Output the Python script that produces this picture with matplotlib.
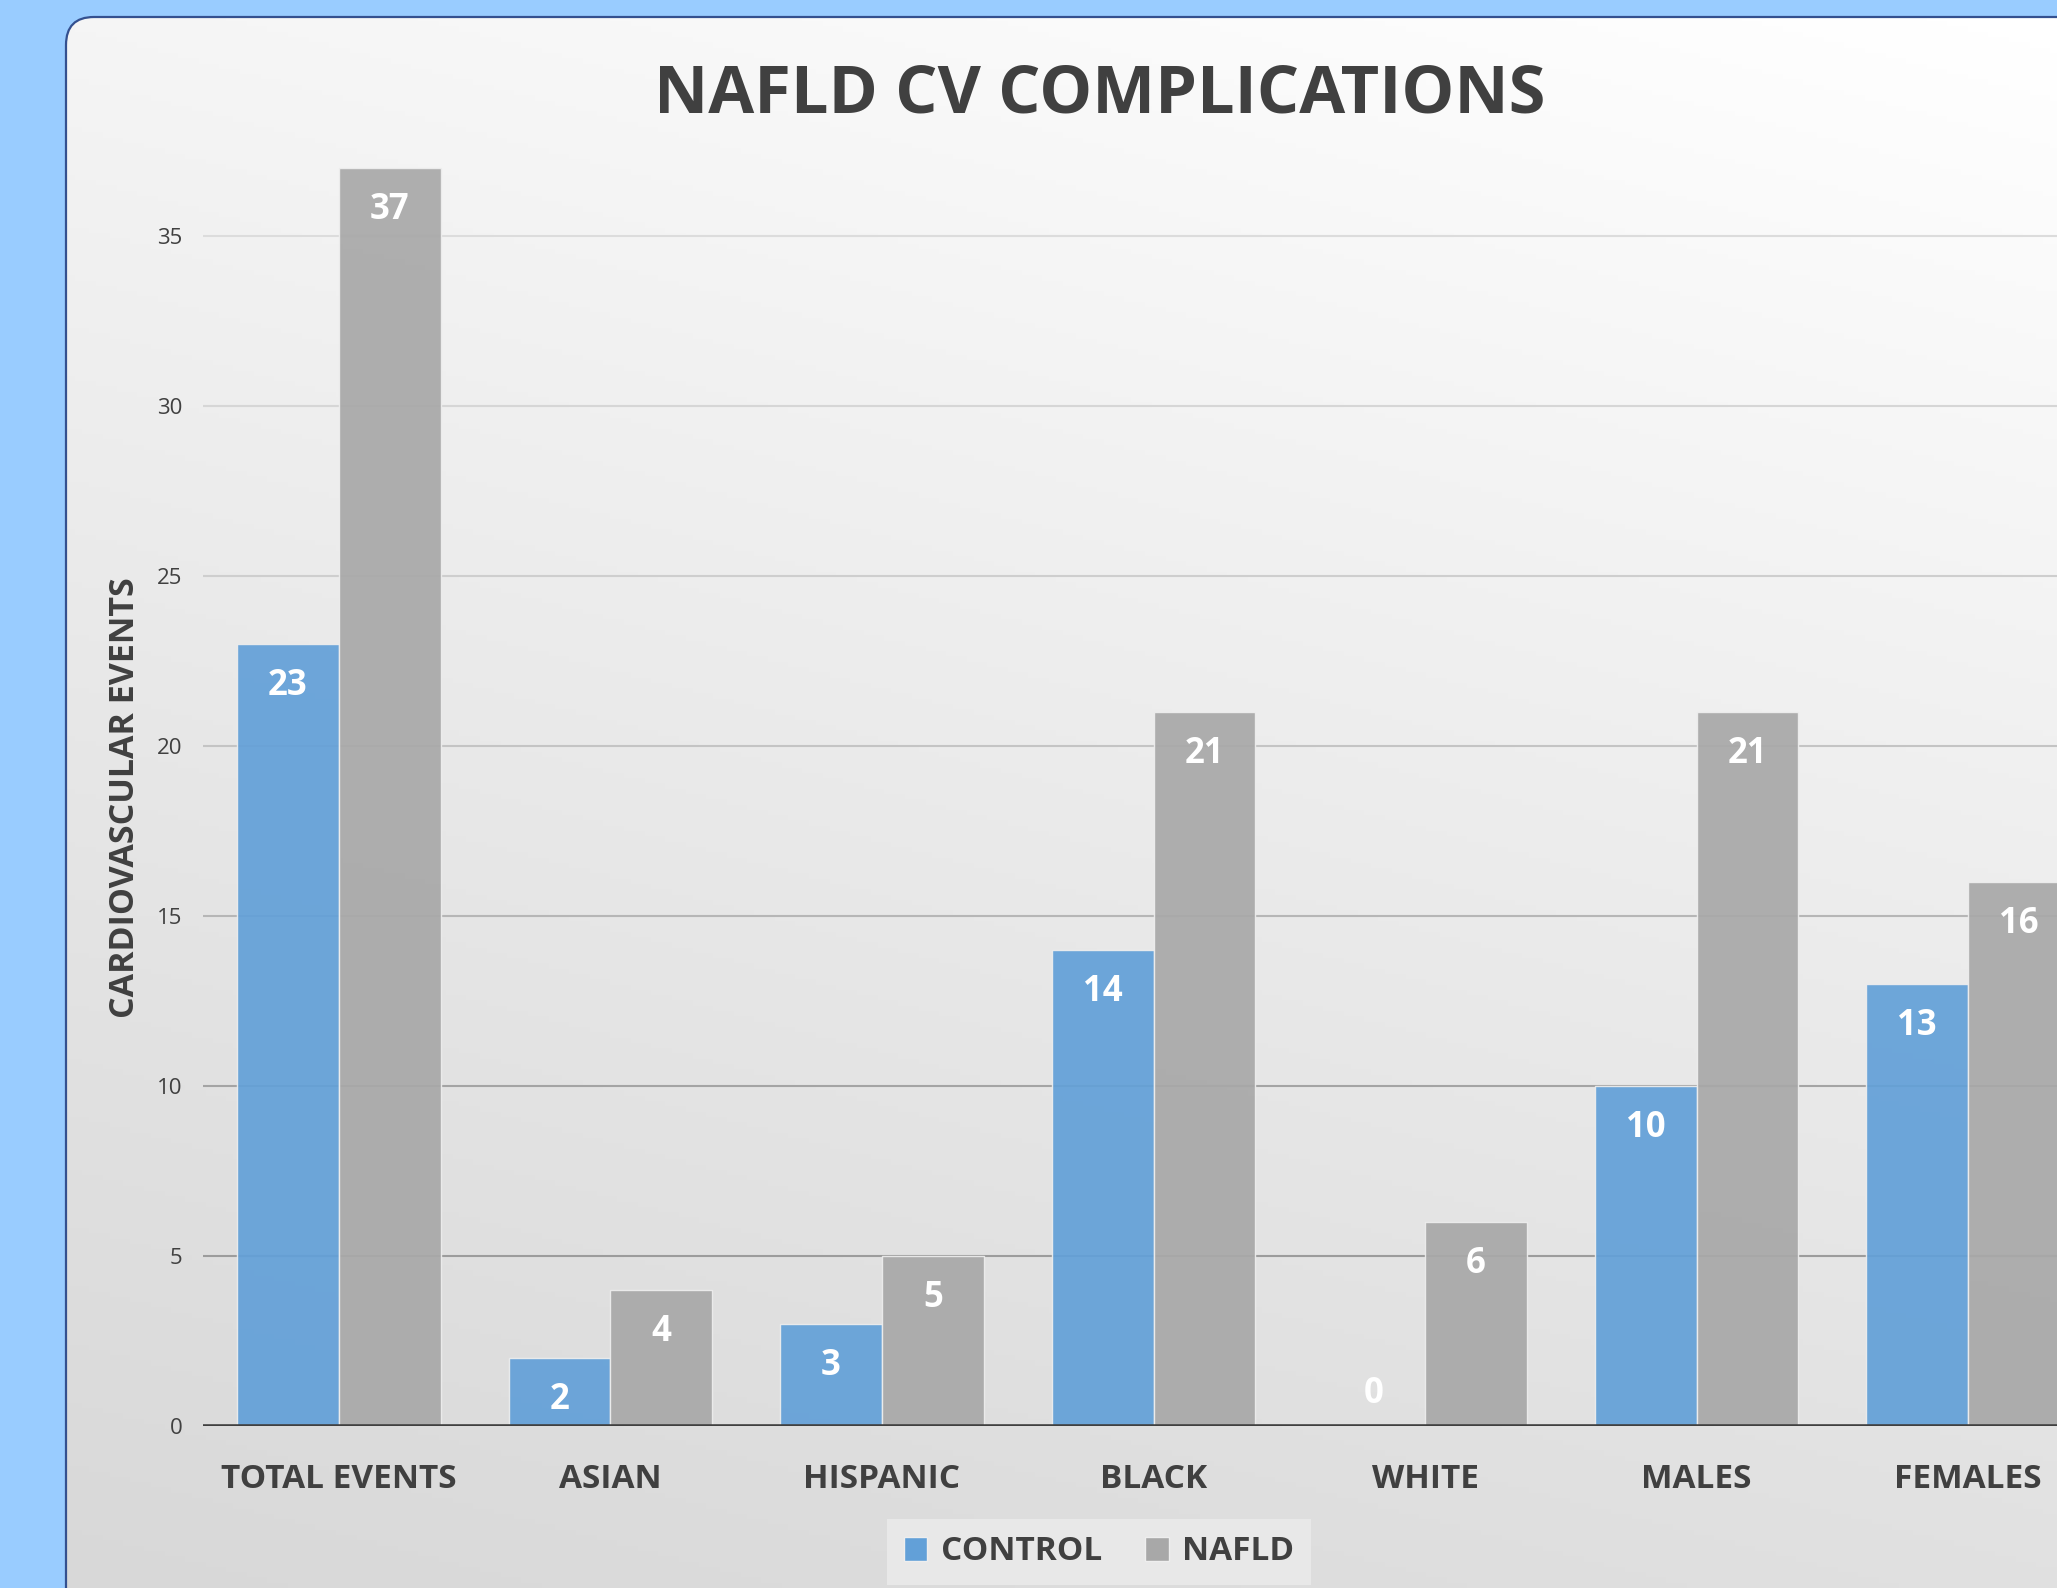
import numpy as np
import matplotlib
matplotlib.use("Agg")
import matplotlib.pyplot as plt
from matplotlib.patches import FancyBboxPatch, Patch

# data
categories = ["TOTAL EVENTS", "ASIAN", "HISPANIC", "BLACK", "WHITE", "MALES", "FEMALES"]
control = [23, 2, 3, 14, 0, 10, 13]
nafld = [37, 4, 5, 21, 6, 21, 16]
yticks = [0, 5, 10, 15, 20, 25, 30, 35]

W, H = 2057, 1588
TXT = "#404040"
BLUE, GRAY = "#62A0D8", "#A8A8A8"

plt.rcParams["font.family"] = ["Open Sans", "DejaVu Sans"]
fig = plt.figure(figsize=(W / 100, H / 100), dpi=100)
fig.patch.set_facecolor("#99CCFF")

# card with rounded corner + soft diagonal gradient (lighter top-right)
bg = fig.add_axes([0, 0, 1, 1], zorder=0)
yy, xx = np.mgrid[0:1:300j, 0:1:300j]
t = 0.75 * yy + 0.25 * xx
g = np.clip((216 + 40 * t ** 1.1) / 255, 0, 1)
img = np.dstack([g, g, g])
im = bg.imshow(img, extent=[0, W, 0, H], origin="lower", aspect="auto", zorder=1)
card = FancyBboxPatch((66, -200), 2400, H - 17 + 200,
                      boxstyle="round,pad=0,rounding_size=28",
                      fc="none", ec="#34508F", lw=1.6, zorder=2)
bg.add_patch(card)
im.set_clip_path(card)
bg.set_xlim(0, W); bg.set_ylim(0, H)
bg.axis("off")

# plot area (right side runs past the figure edge, like the source)
ax = fig.add_axes([203 / W, (H - 1426) / H, 1901 / W, (1426 - 134) / H], zorder=1)
ax.patch.set_alpha(0)
ax.set_xlim(-0.5, 6.5)
ax.set_ylim(0, 38)

grid_cols = {5: "#9c9c9c", 10: "#a4a4a4", 15: "#b6b6b6", 20: "#c4c4c4",
             25: "#cecece", 30: "#d6d6d6", 35: "#dcdcdc"}
for tk, c in grid_cols.items():
    ax.axhline(tk, color=c, lw=1.5, zorder=1)

x = np.arange(len(categories))
w = 0.375
b1 = ax.bar(x - w / 2, control, w, color=BLUE, alpha=0.92, edgecolor="#eeeeee", lw=1.0, zorder=2)
b2 = ax.bar(x + w / 2, nafld, w, color=GRAY, alpha=0.92, edgecolor="#eeeeee", lw=1.0, zorder=2)
ax.axhline(0, color=TXT, lw=2.6, zorder=3)

for bars, vals in ((b1, control), (b2, nafld)):
    for r, v in zip(bars, vals):
        off = 23 if v == 0 else -30
        ax.annotate(str(v), (r.get_x() + r.get_width() / 2, v), xytext=(0, off),
                    textcoords="offset points", ha="center", va="center",
                    color="white", fontsize=25, fontweight="bold", zorder=4)

for s in ax.spines.values():
    s.set_visible(False)
ax.set_yticks(yticks)
ax.set_xticks(x, categories)
ax.tick_params(axis="y", length=0, pad=15, labelsize=16, labelcolor=TXT)
ax.tick_params(axis="x", length=0, pad=27, labelsize=24, labelcolor=TXT)
for lb in ax.get_xticklabels():
    lb.set_fontweight("bold")

fig.text(1100 / W, 1 - 95 / H, "NAFLD CV COMPLICATIONS", ha="center", va="center",
         fontsize=48, fontweight="bold", color=TXT)
fig.text(125 / W, 1 - 798 / H, "CARDIOVASCULAR EVENTS", rotation=90, ha="center",
         va="center", fontsize=24.5, fontweight="bold", color=TXT)

handles = [Patch(fc=BLUE, ec="#eeeeee", label="CONTROL"),
           Patch(fc=GRAY, ec="#eeeeee", label="NAFLD")]
leg = fig.legend(handles=handles, loc="center", bbox_to_anchor=(1099 / W, 1 - 1552 / H),
                 ncol=2, frameon=True, fancybox=False, facecolor="#e8e8e8",
                 edgecolor="none", framealpha=1,
                 prop={"size": 24, "weight": "bold"}, labelcolor=TXT,
                 handlelength=0.7, handleheight=0.7, handletextpad=0.4,
                 columnspacing=1.3, borderpad=0.5)

fig.savefig("out.png", dpi=100, facecolor=fig.get_facecolor())
